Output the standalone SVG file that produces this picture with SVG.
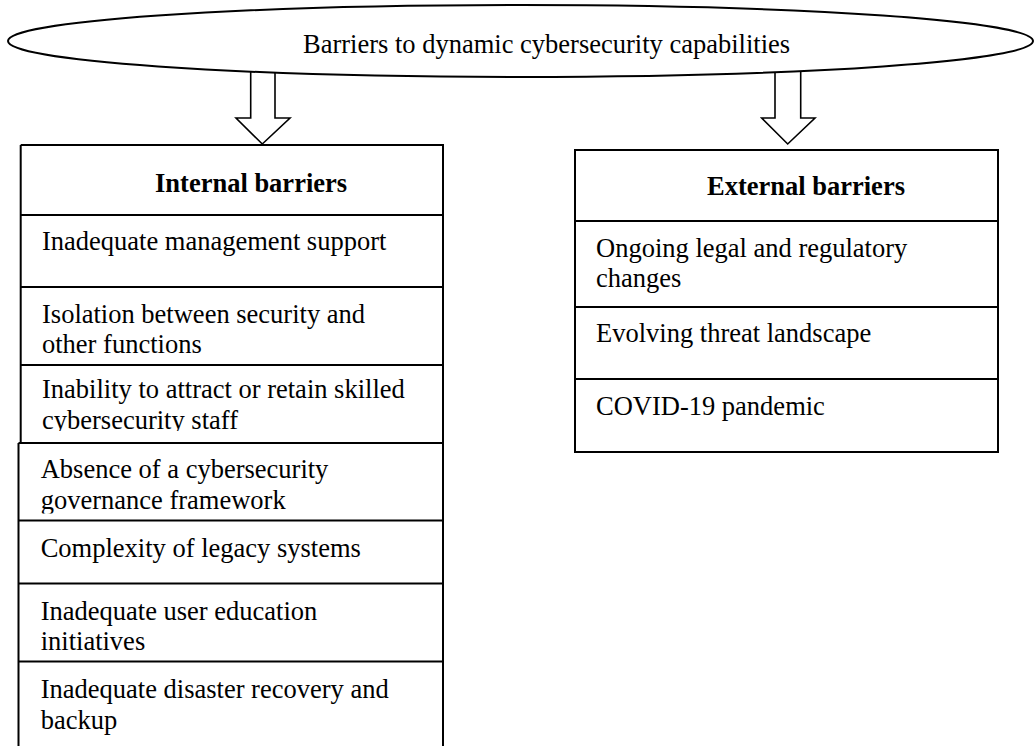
<svg xmlns="http://www.w3.org/2000/svg" width="1035" height="746" viewBox="0 0 1035 746">
<style>
.ln{stroke:#000;stroke-width:2;fill:none}
.bx{stroke:#000;stroke-width:2;fill:#fff}
.arr{stroke:#000;stroke-width:1.6;fill:#fff;stroke-linejoin:miter}
.t{font-family:"Liberation Serif","Times New Roman",serif;font-size:26.5px;fill:#000}
.h{font-weight:bold}
</style>
<defs>
<clipPath id="c3"><rect x="0" y="0" width="1035" height="431"/></clipPath>
<clipPath id="c4"><rect x="0" y="0" width="1035" height="513.5"/></clipPath>
</defs>
<g id="connectors">
<path class="arr" d="M250.7,68 V118 H236 L262.3,144 L290,118 H275 V68"/>
<path class="arr" d="M775,68 V118 H761.7 L787.7,144 L815,118 H800.7 V68"/>
</g>
<g id="root">
<ellipse class="bx" cx="520.5" cy="41" rx="512.5" ry="36"/>
<text class="t" x="303" y="53">Barriers to dynamic cybersecurity capabilities</text>
</g>
<g id="internal">
<path class="ln" d="M20.7,145 H443 V746 M20.7,145 V443 M18.5,443 V746 M20.7,215 H443 M20.7,287 H443 M20.7,365 H443 M18.5,443 H443 M18.5,520.5 H443 M18.5,583.5 H443 M18.5,661.5 H443"/>
<text class="t h" x="155" y="192">Internal barriers</text>
<text class="t" x="42" y="250">Inadequate management support</text>
<text class="t" x="42" y="323">Isolation between security and</text>
<text class="t" x="42" y="353">other functions</text>
<text class="t" x="42" y="398">Inability to attract or retain skilled</text>
<text class="t" x="42" y="428.5" clip-path="url(#c3)">cybersecurity staff</text>
<text class="t" x="40.7" y="478">Absence of a cybersecurity</text>
<text class="t" x="40.7" y="508.5" clip-path="url(#c4)">governance framework</text>
<text class="t" x="40.7" y="557">Complexity of legacy systems</text>
<text class="t" x="40.7" y="620">Inadequate user education</text>
<text class="t" x="40.7" y="650">initiatives</text>
<text class="t" x="40.7" y="698">Inadequate disaster recovery and</text>
<text class="t" x="40.7" y="729">backup</text>
</g>
<g id="external">
<rect class="bx" x="575" y="150" width="423" height="302"/>
<path class="ln" d="M575,221 H998 M575,307 H998 M575,379 H998"/>
<text class="t h" x="707" y="195">External barriers</text>
<text class="t" x="596" y="257">Ongoing legal and regulatory</text>
<text class="t" x="596" y="287">changes</text>
<text class="t" x="596" y="342">Evolving threat landscape</text>
<text class="t" x="596" y="415">COVID-19 pandemic</text>
</g>
</svg>
